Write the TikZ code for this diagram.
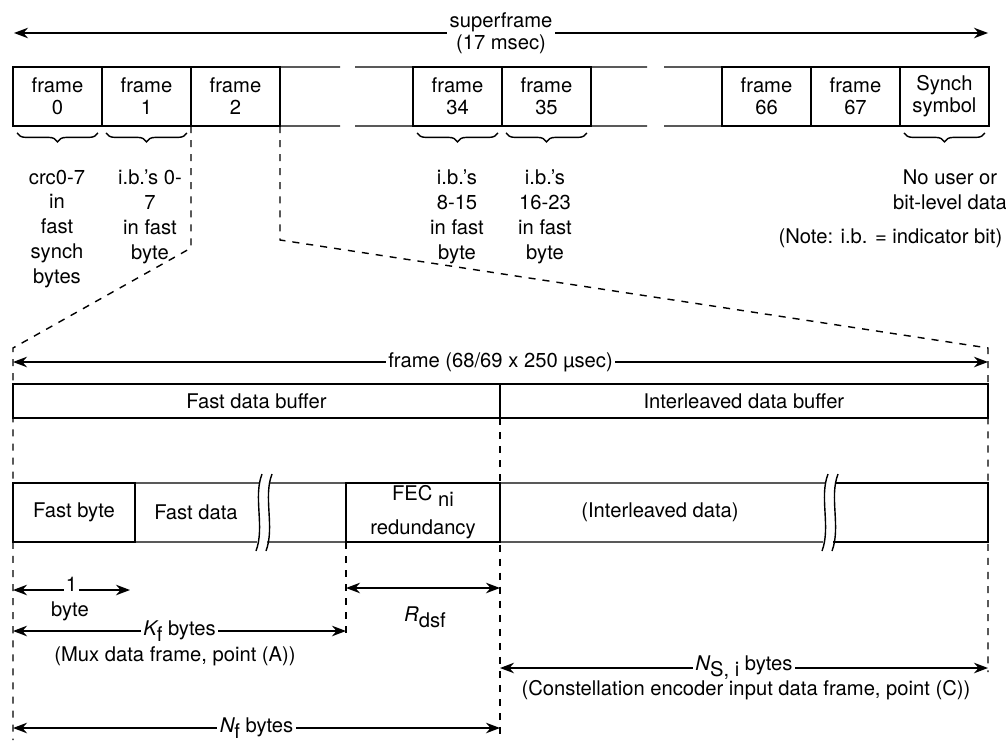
\documentclass[tikz,border=0pt]{standalone}
\usepackage{fontspec}
\setmainfont{TeX Gyre Heros}
\usepackage{tikz}
\usetikzlibrary{arrows.meta,positioning,calc,decorations.pathreplacing}
\newcommand{\lowsub}[1]{\raisebox{-0.55ex}{#1}}

\begin{document}
\begin{tikzpicture}[x=0.02cm,y=-0.02cm,line width=0.8pt,
>={Stealth[length=8pt,width=6pt]},
font=\fontsize{11.5}{12.5}\selectfont]
\tikzstyle{cell}=[draw, minimum width=1.78cm, minimum height=1.18cm,
inner sep=0pt, outer sep=0pt, align=center]
\tikzstyle{note}=[align=center, inner sep=0pt, anchor=north,
font=\fontsize{11.5}{14.2}\selectfont]
\tikzstyle{guide}=[dash pattern=on 4pt off 4pt]
\tikzstyle{dim}=[<->]
\tikzstyle{lbl}=[fill=white, inner sep=1.5pt, align=center]
\tikzstyle{bkt}=[decorate, decoration={brace,mirror,amplitude=5pt}]

\useasboundingbox (0,0) rectangle (1006,740);

\coordinate (sfL) at (14,33);
\coordinate (sfR) at (988,33);
\draw[dim] (sfL) -- node[lbl] (sf) {superframe\\(17 msec)} (sfR);

\node[cell] (f0) at (57.5,96.5) {frame\\0};
\node[cell,right=0pt of f0] (f1) {frame\\1};
\node[cell,right=0pt of f1] (f2) {frame\\2};
\node[cell] (f34) at (457.5,96.5) {frame\\34};
\node[cell,right=0pt of f34] (f35) {frame\\35};
\node[cell] (f66) at (766.5,96.5) {frame\\66};
\node[cell,right=0pt of f66] (f67) {frame\\67};
\node[cell,right=0pt of f67] (sync) {Synch\\symbol};

\coordinate (g1ta) at (340,67);
\coordinate (g1tb) at (355,67);
\coordinate (g1ba) at (340,126);
\coordinate (g1bb) at (355,126);
\coordinate (g2ta) at (647,67);
\coordinate (g2tb) at (664,67);
\coordinate (g2ba) at (647,126);
\coordinate (g2bb) at (664,126);
\draw (f2.north east) -- (g1ta);
\draw (g1tb) -- (f34.north west);
\draw (f2.south east) -- (g1ba);
\draw (g1bb) -- (f34.south west);
\draw (f35.north east) -- (g2ta);
\draw (g2tb) -- (f66.north west);
\draw (f35.south east) -- (g2ba);
\draw (g2bb) -- (f66.south west);

\foreach \n in {f0,f1,f34,f35,sync}
  \draw[bkt] ($(\n.south west)+(4,7)$) -- ($(\n.south east)+(-4,7)$);

\node[note] (n0) at (57,169) {crc0-7\\in\\fast\\synch\\bytes};
\node[note] (n1) at (150,169) {i.b.'s 0-\\7\\in fast\\byte};
\node[note] (n34) at (457,169) {i.b.'s\\8-15\\in fast\\byte};
\node[note] (n35) at (545,169) {i.b.'s\\16-23\\in fast\\byte};
\node[note] (nsync) at (950,169) {No user or\\bit-level data};
\node[anchor=east,inner sep=0pt] (key) at (1003,238) {(Note: i.b. = indicator bit)};

\coordinate (k1) at (191,248);
\coordinate (k2) at (280,240);
\coordinate (zl) at (13,348);
\coordinate (zr) at (988,348);
\coordinate (zlb) at (13,740);
\coordinate (zrb) at (988,672);
\draw[guide] (f2.south west) -- (k1) -- (zl) -- (zlb);
\draw[guide] (f2.south east) -- (k2) -- (zr) -- (zrb);

\coordinate (frL) at (13,362);
\coordinate (frR) at (988,362);
\draw[dim] (frL) -- node[lbl] (fr) {frame (68/69 x 250 µsec)} (frR);

\node[cell,minimum width=9.74cm,minimum height=0.68cm] (fastbuf) at (256.5,401) {Fast data buffer};
\node[cell,minimum width=9.76cm,minimum height=0.68cm,right=0pt of fastbuf] (ilvbuf) {Interleaved data buffer};

\node[cell,minimum width=2.44cm] (fbyte) at (74,512.5) {Fast byte};
\node (fdata) at (196,512.5) {Fast data};
\node[cell,minimum width=3.08cm] (fec) at (423,512.5) {FEC\lowsub{ ni}\\[7pt]redundancy};
\node (ilvdata) at (660,512.5) {(Interleaved data)};

\coordinate (b1t) at (260,483);
\coordinate (b2t) at (270,483);
\coordinate (b1b) at (257,542);
\coordinate (b2b) at (267,542);
\coordinate (b3t) at (826,483);
\coordinate (b4t) at (836,483);
\coordinate (b3b) at (823,542);
\coordinate (b4b) at (833,542);
\coordinate (endt) at (988,483);
\coordinate (endb) at (988,542);
\draw (fbyte.north east) -- (b1t);
\draw (b2t) -- (fec.north west);
\draw (fbyte.south east) -- (b1b);
\draw (b2b) -- (fec.south west);
\draw (fec.north east) -- (b3t);
\draw (fec.south east) -- (b3b);
\draw (b4t) -- (endt) -- (endb) -- (b4b);
\foreach \b in {259,269,825,835}
  \draw (\b+3,474) .. controls (\b-6,497) and (\b+6,527) .. (\b-3,551);

\coordinate (c1) at (500,418);
\coordinate (c2) at (500,740);
\coordinate (c3) at (346,542);
\coordinate (c4) at (346,640);
\draw[guide] (c1) -- (c2);
\draw[guide] (c3) -- (c4);

\coordinate (oneL) at (13,590);
\coordinate (oneR) at (130,590);
\draw[dim] (oneL) -- node[lbl,inner sep=1pt,yshift=3pt] (one) {1} (oneR);
\node (byte) at (70,611) {byte};

\coordinate (rL) at (346,588);
\coordinate (rR) at (500,588);
\draw[dim] (rL) -- (rR);
\node (rdsf) at (425,617) {\itshape R\upshape\lowsub{dsf}};

\coordinate (kL) at (13,631);
\coordinate (kR) at (346,631);
\draw[dim] (kL) -- node[lbl] (kf) {\itshape K\upshape\lowsub{f} bytes} (kR);
\node (mux) at (175,656) {(Mux data frame, point (A))};

\coordinate (sL) at (500,668);
\coordinate (sR) at (988,668);
\draw[dim] (sL) -- node[lbl] (nsi) {\itshape N\upshape\lowsub{S, i} bytes} (sR);
\node (cons) at (746,690) {(Constellation encoder input data frame, point (C))};

\coordinate (nL) at (13,728);
\coordinate (nR) at (500,728);
\draw[dim] (nL) -- node[lbl] (nf) {\itshape N\upshape\lowsub{f} bytes} (nR);

\end{tikzpicture}
\end{document}
